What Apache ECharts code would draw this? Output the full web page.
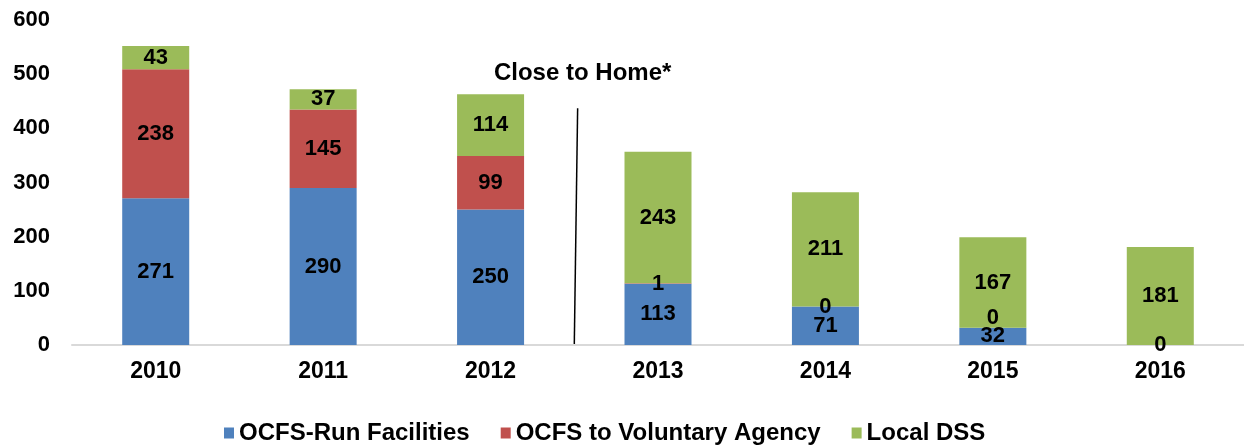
<!DOCTYPE html>
<html>
<head>
<meta charset="utf-8">
<script src="https://cdn.jsdelivr.net/npm/echarts@6/dist/echarts.min.js"></script>
<style>
  html, body { margin: 0; padding: 0; background: #fff; }
  #chart { width: 1244px; height: 445px; }
</style>
</head>
<body>
<div id="chart"></div>
<script>
// data
const years = ["2010", "2011", "2012", "2013", "2014", "2015", "2016"];
const ocfsRun = [271, 290, 250, 113, 71, 32, 0];
const voluntary = [238, 145, 99, 1, 0, 0, null];
const localDss = [43, 37, 114, 243, 211, 167, 181];
const yTicks = { min: 0, max: 600, interval: 100 };

const FONT = "Liberation Sans, Arial, sans-serif";

const chart = echarts.init(document.getElementById("chart"));

function labelStyle() {
  return {
    show: true,
    position: "inside",
    color: "#000",
    fontFamily: FONT,
    fontWeight: "bold",
    fontSize: 22,
    formatter: (p) => (p.value === null || p.value === undefined ? "" : p.value),
  };
}

// the 2015 "0" label sits a bit above the blue bar in the original
const voluntaryData = voluntary.map((v, i) =>
  i === 5 ? { value: v, label: { offset: [0, -10] } } : v
);

chart.setOption({
  animation: false,
  textStyle: { fontFamily: FONT },
  grid: { left: 72, right: 0, top: 20, bottom: 100 },
  legend: {
    left: 219,
    top: 416,
    itemWidth: 10,
    itemHeight: 11,
    itemGap: 31,
    icon: "rect",
    textStyle: { fontSize: 24, fontWeight: "bold", color: "#000", fontFamily: FONT },
    data: ["OCFS-Run Facilities", "OCFS to Voluntary Agency", "Local DSS"],
  },
  xAxis: {
    type: "category",
    data: years,
    axisLine: { lineStyle: { color: "#d9d9d9", width: 2 } },
    axisTick: { show: false },
    axisLabel: { color: "#000", fontSize: 23, fontWeight: "bold", margin: 15 },
  },
  yAxis: {
    type: "value",
    min: yTicks.min,
    max: yTicks.max,
    interval: yTicks.interval,
    splitLine: { show: false },
    axisLine: { show: false },
    axisLabel: { color: "#000", fontSize: 22, fontWeight: "bold", margin: 22 },
  },
  series: [
    {
      name: "OCFS-Run Facilities",
      type: "bar",
      stack: "total",
      barWidth: 67,
      itemStyle: { color: "#4F81BD" },
      label: labelStyle(),
      data: ocfsRun,
    },
    {
      name: "OCFS to Voluntary Agency",
      type: "bar",
      stack: "total",
      itemStyle: { color: "#C0504D" },
      label: labelStyle(),
      data: voluntaryData,
    },
    {
      name: "Local DSS",
      type: "bar",
      stack: "total",
      itemStyle: { color: "#9BBB59" },
      label: labelStyle(),
      data: localDss,
    },
  ],
});

// divider between 2012 and 2013 with the "Close to Home*" note
const p2012 = chart.convertToPixel({ gridIndex: 0 }, [2, 437]);
const p2013 = chart.convertToPixel({ gridIndex: 0 }, [3, 0]);
const step = p2013[0] - p2012[0];
const divTop = [p2012[0] + step * 0.52, p2012[1]];
const divBottom = [p2012[0] + step * 0.5, p2013[1]];
chart.setOption({
  graphic: [
    {
      type: "line",
      shape: { x1: divTop[0], y1: divTop[1], x2: divBottom[0], y2: divBottom[1] },
      style: { stroke: "#000", lineWidth: 1.5 },
    },
    {
      type: "text",
      x: divTop[0] + 5,
      y: divTop[1] - 35,
      style: {
        text: "Close to Home*",
        fill: "#000",
        font: "bold 24px " + FONT,
        textAlign: "center",
        textVerticalAlign: "middle",
      },
    },
  ],
});
</script>
</body>
</html>
